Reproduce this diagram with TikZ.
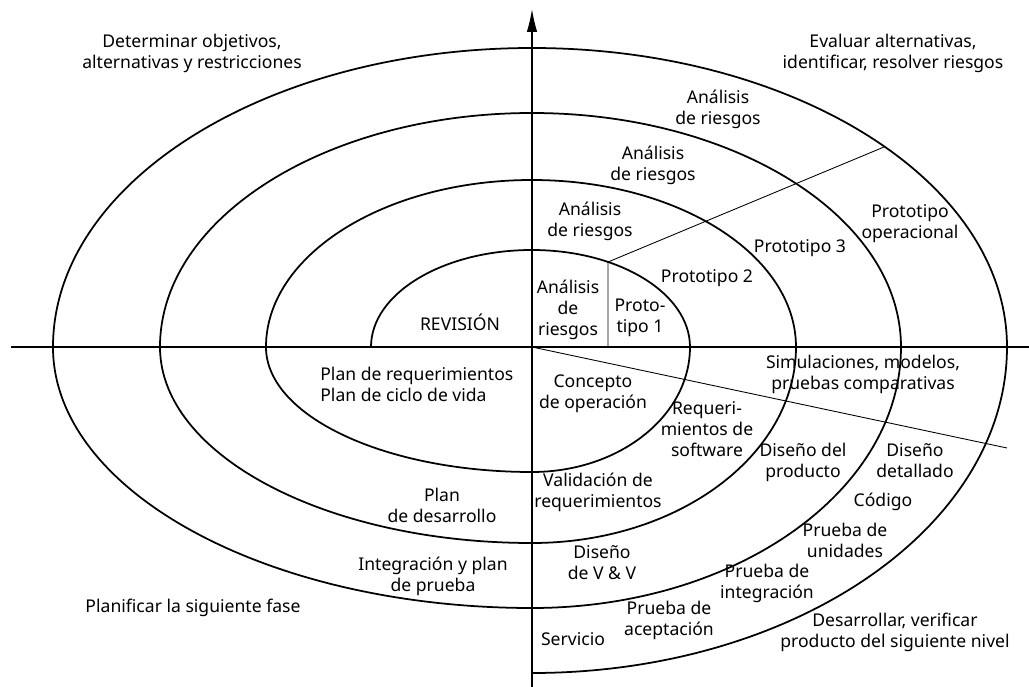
\documentclass[tikz,border=0pt]{standalone}
\usepackage{fontspec}
\setmainfont{Noto Sans}
\usepackage{tikz}
\usetikzlibrary{arrows.meta,positioning}

\begin{document}
\begin{tikzpicture}[x=0.02cm,y=0.02cm,
	txt/.style={align=center,font=\fontsize{10}{12}\selectfont,inner sep=0pt},
	spiral/.style={line width=1pt},
	axis/.style={line width=0.8pt},
	ray/.style={line width=0.5pt}]
	\useasboundingbox (-532,-340) rectangle (497,347);

	% ejes
	\coordinate (o) at (0,0);
	\coordinate (x_l) at (-521,0);
	\coordinate (x_r) at (497,0);
	\coordinate (y_b) at (0,-340);
	\coordinate (y_t) at (0,338);
	\draw[axis] (x_l) -- (x_r);
	\draw[axis,-{Latex[length=13pt,width=6pt]}] (y_b) -- (y_t);

	% espiral
	\draw[spiral] (-161,0)
		arc[start angle=180,end angle=90,x radius=161,y radius=97]
		arc[start angle=90,end angle=0,x radius=158,y radius=97]
		arc[start angle=0,end angle=-90,x radius=158,y radius=125]
		arc[start angle=-90,end angle=-180,x radius=266,y radius=125]
		arc[start angle=180,end angle=90,x radius=266,y radius=167]
		arc[start angle=90,end angle=0,x radius=264,y radius=167]
		arc[start angle=0,end angle=-90,x radius=264,y radius=196]
		arc[start angle=-90,end angle=-180,x radius=372,y radius=196]
		arc[start angle=180,end angle=90,x radius=372,y radius=234]
		arc[start angle=90,end angle=0,x radius=369,y radius=234]
		arc[start angle=0,end angle=-90,x radius=369,y radius=261]
		arc[start angle=-90,end angle=-180,x radius=479,y radius=261]
		arc[start angle=180,end angle=90,x radius=479,y radius=299]
		arc[start angle=90,end angle=0,x radius=475,y radius=299]
		arc[start angle=0,end angle=-90,x radius=475,y radius=326];

	% lineas radiales
	\coordinate (c_1) at (76,0);
	\coordinate (c_2) at (76,85);
	\coordinate (c_3) at (352,200);
	\coordinate (c_4) at (475,-101);
	\draw[ray] (c_1) -- (c_2) -- (c_3);
	\draw[ray] (o) -- (c_4);

	% cuadrantes
	\node[txt] (q_1) at (-340,294) {Determinar objetivos,\\alternativas y restricciones};
	\node[txt] (q_2) at (361,294) {Evaluar alternativas,\\identificar, resolver riesgos};
	\node[txt] (q_3) at (-339,-261) {Planificar la siguiente fase};
	\node[txt] (q_4) at (363,-285) {Desarrollar, verificar\\producto del siguiente nivel};

	% analisis de riesgos y prototipos
	\node[txt] (r_1) at (36,37) {Análisis\\de\\riesgos};
	\node[txt] (r_2) at (58,126) {Análisis\\de riesgos};
	\node[txt] (r_3) at (121,182) {Análisis\\de riesgos};
	\node[txt] (r_4) at (186,238) {Análisis\\de riesgos};
	\node[txt] (p_1) at (108,29) {Proto-\\tipo 1};
	\node[txt] (p_2) at (175,69) {Prototipo 2};
	\node[txt] (p_3) at (268,99) {Prototipo 3};
	\node[txt] (p_4) at (378,123) {Prototipo\\operacional};

	% planificacion
	\node[txt] (rev) at (-72,25) {REVISIÓN};
	\node[txt,align=left,anchor=west] (pl_1) at (-212,-37) {Plan de requerimientos\\Plan de ciclo de vida};
	\node[txt] (pl_2) at (-90,-158) {Plan\\de desarrollo};
	\node[txt] (pl_3) at (-99,-229) {Integración y plan\\de prueba};

	% desarrollo
	\node[txt] (d_1) at (61,-47) {Concepto\\de operación};
	\node[txt] (d_2) at (175,-82) {Requeri-\\mientos de\\software};
	\node[txt] (d_3) at (331,-27) {Simulaciones, modelos,\\pruebas comparativas};
	\node[txt] (d_4) at (271,-115) {Diseño del\\producto};
	\node[txt] (d_5) at (383,-114) {Diseño\\detallado};
	\node[txt] (d_6) at (351,-155) {Código};
	\node[txt] (d_7) at (313,-193) {Prueba de\\unidades};
	\node[txt] (v_1) at (66,-145) {Validación de\\requerimientos};
	\node[txt] (v_2) at (70,-216) {Diseño\\de V \& V};
	\node[txt] (v_3) at (235,-236) {Prueba de\\integración};
	\node[txt] (v_4) at (137,-273) {Prueba de\\aceptación};
	\node[txt] (v_5) at (41,-292) {Servicio};
\end{tikzpicture}
\end{document}
